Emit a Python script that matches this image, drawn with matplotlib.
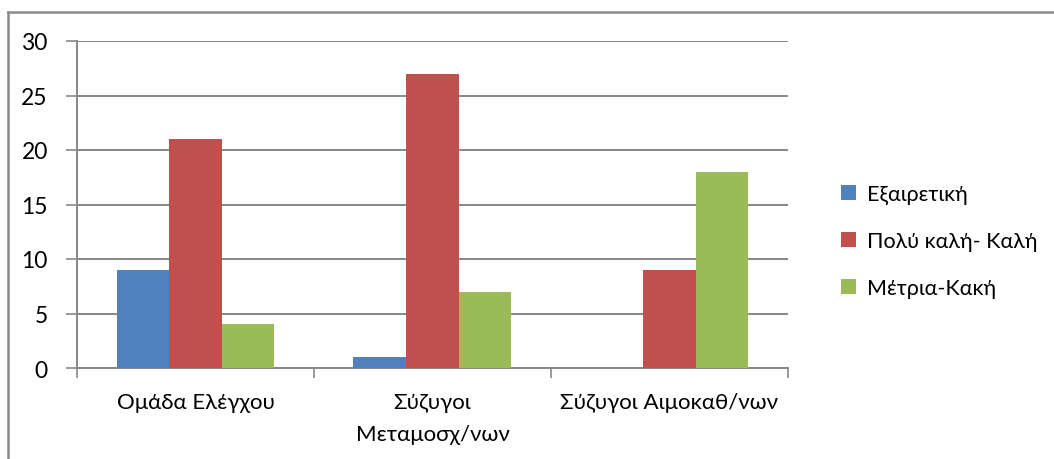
import matplotlib
matplotlib.use("Agg")
import matplotlib.pyplot as plt
from matplotlib.lines import Line2D
import numpy as np

plt.rcParams['font.family'] = ['Lato', 'Open Sans', 'DejaVu Sans']

categories = ["Ομάδα Ελέγχου", "Σύζυγοι\nΜεταμοσχ/νων", "Σύζυγοι Αιμοκαθ/νων"]
series_names = ["Εξαιρετική", "Πολύ καλή- Καλή", "Μέτρια-Κακή"]
excellent = [9, 1, 0]
good = [21, 27, 9]
poor = [4, 7, 18]
yticks = [0, 5, 10, 15, 20, 25, 30]

colors = ["#4F81BD", "#C0504D", "#9BBB59"]
grid_col = "#878787"

fig = plt.figure(figsize=(10.54, 4.6), dpi=100)
ax = fig.add_axes([77 / 1054, 1 - 369 / 460, (788 - 77) / 1054, (369 - 42) / 460])

x = np.arange(len(categories))
w = 1 / 4.5
for i, (vals, name) in enumerate(zip([excellent, good, poor], series_names)):
    ax.bar(x + (i - 1) * w, vals, width=w, color=colors[i], label=name, zorder=3)

ax.set_xlim(-0.5, 2.5)
ax.set_ylim(0, 30)
ax.set_yticks(yticks)
ax.yaxis.grid(True, color=grid_col, linewidth=1.4, zorder=0)
ax.tick_params(axis='y', length=8, width=1.2, color=grid_col, pad=13, labelsize=16.5)

ax.set_xticks([-0.5, 0.5, 1.5, 2.5])
ax.set_xticklabels([])
ax.set_xticks(x, minor=True)
ax.set_xticklabels(categories, minor=True, fontsize=16, linespacing=1.75, va='top')
ax.tick_params(axis='x', which='major', length=7, width=1.2, color=grid_col, direction='out')
ax.tick_params(axis='x', which='minor', length=0, pad=17)

for s in ['top', 'right']:
    ax.spines[s].set_visible(False)
for s in ['left', 'bottom']:
    ax.spines[s].set_color(grid_col)
    ax.spines[s].set_linewidth(1.4)
ax.set_axisbelow(True)

leg = fig.legend(loc='center left', bbox_to_anchor=(822 / 1054, 1 - 242 / 460),
                 frameon=False, fontsize=15.5, handlelength=0.7, handleheight=0.7,
                 handletextpad=0.5, labelspacing=1.25)

# chart area border (top and left edges)
fig.add_artist(Line2D([8 / 1054, 1.0], [1 - 13 / 460, 1 - 13 / 460],
                      transform=fig.transFigure, color="#8a8a8a", linewidth=1.8))
fig.add_artist(Line2D([8 / 1054, 8 / 1054], [0.0, 1 - 13 / 460],
                      transform=fig.transFigure, color="#8a8a8a", linewidth=1.8))

fig.savefig("out.png", dpi=100, facecolor="white")
